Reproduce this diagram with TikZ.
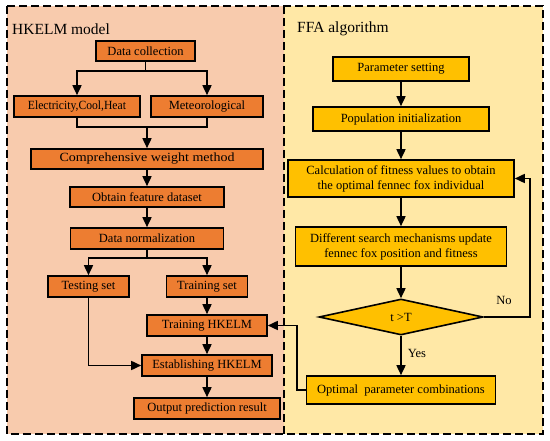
\documentclass[tikz,border=0pt]{standalone}
\usepackage{fontspec}
\usepackage{graphicx}
\setmainfont{Liberation Serif}
\usetikzlibrary{shapes.geometric,arrows.meta}
\definecolor{panelL}{HTML}{F8CBAD}
\definecolor{panelR}{HTML}{FFE8A6}
\definecolor{boxO}{HTML}{ED7D31}
\definecolor{boxY}{HTML}{FFC000}
\tikzset{
  obox/.style={draw=black, line width=1.6pt, fill=boxO, inner sep=0pt, font=\fontsize{12.5}{14}\selectfont},
  ybox/.style={draw=black, line width=1.6pt, fill=boxY, inner sep=0pt, font=\fontsize{12.5}{15}\selectfont, align=center},
  conn/.style={line width=1.6pt, draw=black},
  arr/.style={conn, -{Triangle[length=10pt,width=9pt]}},
  ttl/.style={font=\fontsize{15.5}{18}\selectfont, anchor=west, inner sep=0pt},
  lbl/.style={font=\fontsize{12.5}{14}\selectfont, inner sep=0pt},
  panel/.style={line width=1.7pt, dash pattern=on 8pt off 4pt}
}
\begin{document}
\begin{tikzpicture}[x=1pt,y=-1pt]
\useasboundingbox (0,0) rectangle (550,441);
% panels
\fill[panelL] (7,6) rectangle (284,434);
\fill[panelR] (284,6) rectangle (543,434);
\draw[panel] (7,6) rectangle (543,434);
\draw[panel] (284,6) -- (284,434);
\node[ttl] (t1) at (12,29) {HKELM model};
\node[ttl] (t2) at (297,29) {FFA algorithm};
% left nodes
\node[obox, minimum width=99pt, minimum height=20pt] (dc) at (145.5,51) {Data collection};
\node[obox, minimum width=126pt, minimum height=21pt] (ech) at (77,106.5) {\scalebox{0.93}[1]{Electricity,Cool,Heat}};
\node[obox, minimum width=112pt, minimum height=21pt] (met) at (207,106.5) {Meteorological};
\node[obox, minimum width=232pt, minimum height=20pt] (cwm) at (147,159) {\scalebox{1.12}[1]{Comprehensive weight method}};
\node[obox, minimum width=154pt, minimum height=20pt] (ofd) at (147,197) {Obtain feature dataset};
\node[obox, minimum width=153pt, minimum height=21pt] (dn) at (147,238.5) {Data normalization};
\node[obox, minimum width=81pt, minimum height=21pt] (ts) at (88.5,286.5) {Testing set};
\node[obox, minimum width=81pt, minimum height=21pt] (trs) at (207,286.5) {Training set};
\node[obox, minimum width=120pt, minimum height=21pt] (th) at (207,325.5) {Training HKELM};
\node[obox, minimum width=130pt, minimum height=21pt] (eh) at (207,365.5) {Establishing HKELM};
\node[obox, minimum width=146pt, minimum height=21pt] (opr) at (207,408.5) {Output prediction result};
% right nodes
\node[ybox, minimum width=136pt, minimum height=24pt] (ps) at (401,69) {Parameter setting};
\node[ybox, minimum width=176pt, minimum height=24pt] (pi) at (401,119) {Population initialization};
\node[ybox, minimum width=226pt, minimum height=37pt] (calc) at (401,178.5) {Calculation of fitness values to obtain\\the optimal fennec fox individual};
\node[ybox, minimum width=211pt, minimum height=39pt] (diff) at (401,246.5) {Different search mechanisms update\\fennec fox position and fitness};
\node[ybox, diamond, minimum width=164pt, minimum height=36pt] (dia) at (401,317) {t >T};
\node[ybox, minimum width=189pt, minimum height=28pt] (opt) at (401,390) {Optimal\ \ parameter combinations};
\coordinate (no1) at (530,317);
\coordinate (no2) at (530,178.5);
\coordinate (ob1) at (297,390);
\coordinate (ob2) at (297,325.5);
\coordinate (j1) at (145.5,71);
\coordinate (j2) at (147,127);
\coordinate (j3) at (147,258);
% left connectors
\draw[conn] (dc.south) -- (j1);
\draw[arr] (j1) -| (ech.north);
\draw[arr] (j1) -| (met.north);
\draw[conn] (ech.south) |- (j2) -| (met.south);
\draw[arr] (j2) -- (cwm.north);
\draw[arr] (cwm.south) -- (ofd.north);
\draw[arr] (ofd.south) -- (dn.north);
\draw[conn] (dn.south) -- (j3);
\draw[arr] (j3) -| (ts.north);
\draw[arr] (j3) -| (trs.north);
\draw[arr] (trs.south) -- (th.north);
\draw[arr] (th.south) -- (eh.north);
\draw[arr] (eh.south) -- (opr.north);
\draw[arr] (ts.south) |- (eh.west);
% right connectors
\draw[arr] (ps.south) -- (pi.north);
\draw[arr] (pi.south) -- (calc.north);
\draw[arr] (calc.south) -- (diff.north);
\draw[arr] (diff.south) -- (dia.north);
\draw[arr] (dia.south) -- node[lbl, right=6pt, pos=0.45] (yes) {Yes} (opt.north);
\draw[arr] (dia.east) -- (no1) -- (no2) -- (calc.east);
\node[lbl] (no) at (504,300) {No};
\draw[arr] (opt.west) -- (ob1) -- (ob2) -- (th.east);
\end{tikzpicture}
\end{document}
